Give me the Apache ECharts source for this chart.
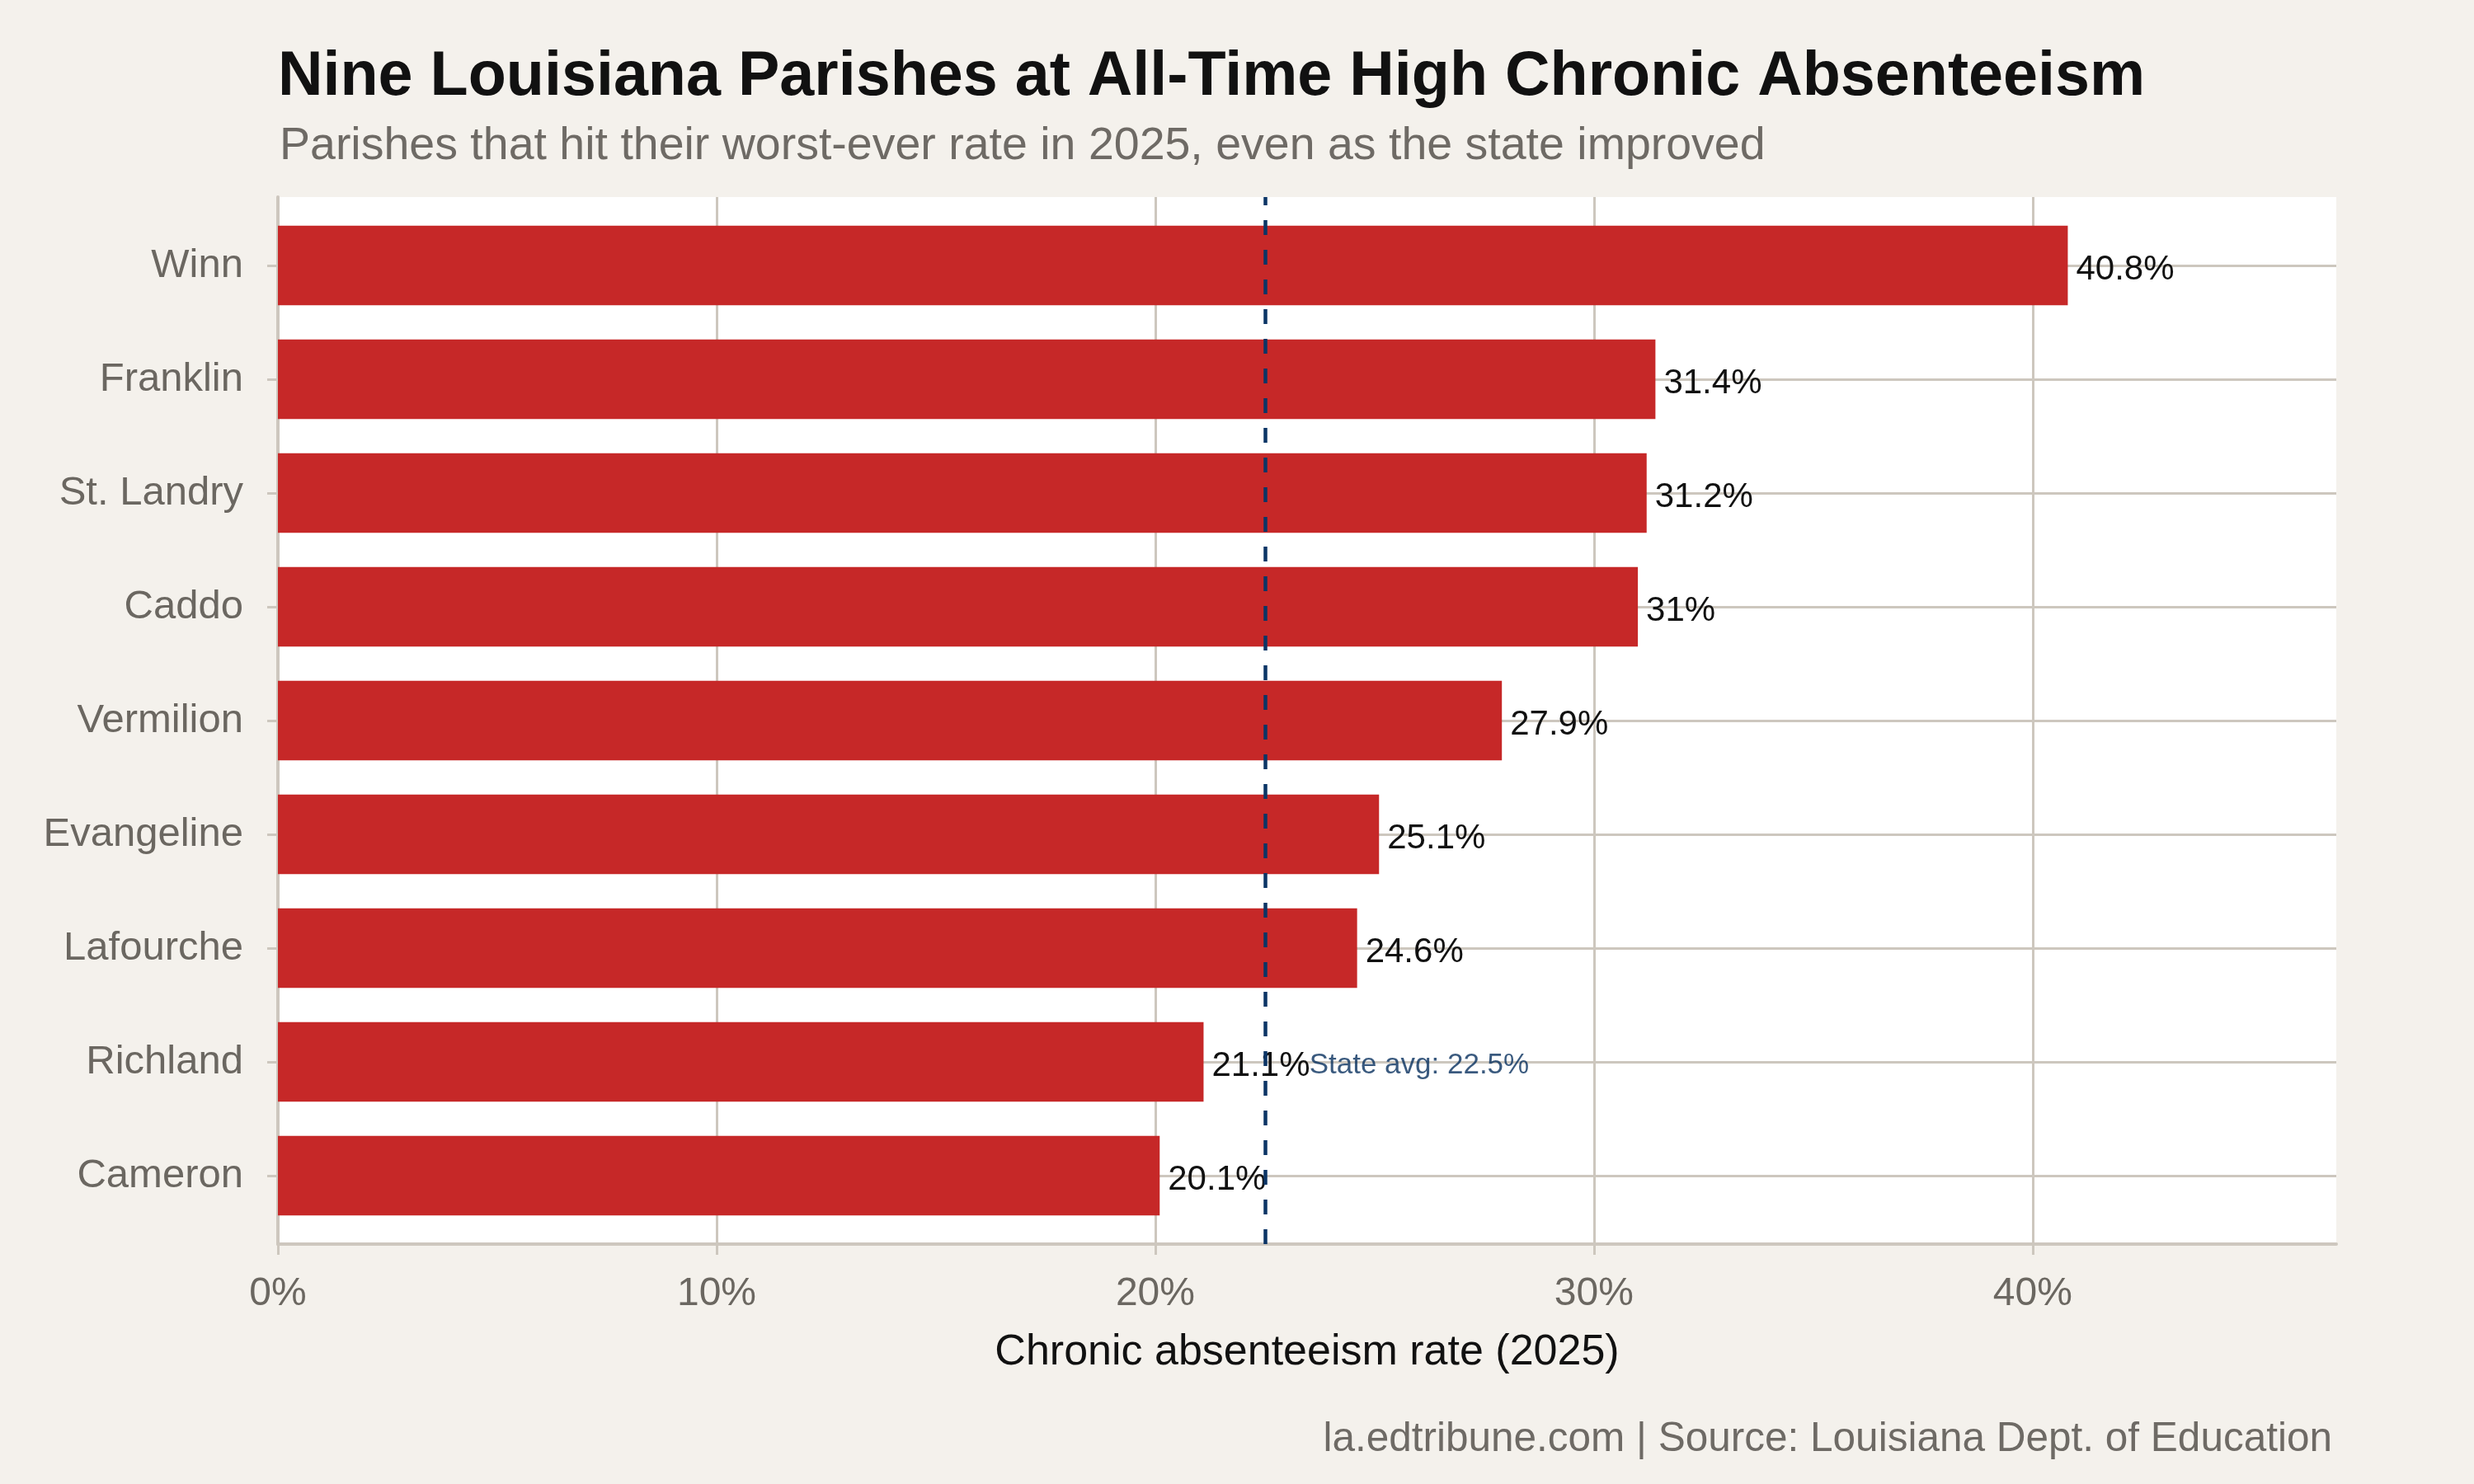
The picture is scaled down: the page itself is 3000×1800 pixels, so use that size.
<!DOCTYPE html>
<html>
<head>
<meta charset="utf-8">
<script src="https://cdn.jsdelivr.net/npm/echarts@6/dist/echarts.min.js"></script>
<style>
  html, body { margin: 0; padding: 0; background: #f4f1ec; }
  #chart { width: 3000px; height: 1800px; }
</style>
</head>
<body>
<div id="chart"></div>
<script>
// data
const parishes = ["Winn", "Franklin", "St. Landry", "Caddo", "Vermilion", "Evangeline", "Lafourche", "Richland", "Cameron"];
const rates = [40.8, 31.4, 31.2, 31, 27.9, 25.1, 24.6, 21.1, 20.1];
const stateAvg = 22.5;
const stateAvgRow = "Richland";
const xTicks = [0, 10, 20, 30, 40];

const FONT = "Liberation Sans, Arial, Helvetica, sans-serif";
const GRID = "#cdc7be";
const xMax = 40.8 * 1.15;

const chart = echarts.init(document.getElementById("chart"));

const option = {
  backgroundColor: "#f4f1ec",
  textStyle: { fontFamily: FONT },
  title: [
    {
      text: "Nine Louisiana Parishes at All-Time High Chronic Absenteeism",
      left: 332,
      top: 51,
      textStyle: { fontFamily: FONT, fontSize: 75.5, fontWeight: "bold", color: "#111111" }
    },
    {
      text: "Parishes that hit their worst-ever rate in 2025, even as the state improved",
      left: 334,
      top: 145,
      textStyle: { fontFamily: FONT, fontSize: 55.5, fontWeight: "normal", color: "#6e6a65" }
    },
    {
      text: "la.edtribune.com | Source: Louisiana Dept. of Education",
      right: 167,
      top: 1716,
      textStyle: { fontFamily: FONT, fontSize: 49.5, fontWeight: "normal", color: "#6e6a65" }
    }
  ],
  grid: [
    // panel
    { left: 337, right: 167, top: 239, bottom: 291, show: true, backgroundColor: "#ffffff", borderWidth: 0 },
    // bars (ggplot leaves 0.6 of a band at each end, echarts 0.5)
    { left: 337, right: 167, top: 253, bottom: 305 }
  ],
  xAxis: [
    {
      gridIndex: 0,
      type: "value",
      min: 0,
      max: xMax,
      interval: 10,
      name: "Chronic absenteeism rate (2025)",
      nameLocation: "middle",
      nameGap: 106,
      nameTextStyle: { fontFamily: FONT, fontSize: 52, color: "#111111" },
      axisLine: { show: true, lineStyle: { color: GRID, width: 4 } },
      axisTick: { show: true, length: 13, customValues: xTicks, lineStyle: { color: GRID, width: 3 } },
      axisLabel: {
        fontFamily: FONT,
        fontSize: 48,
        color: "#6b6761",
        margin: 37,
        showMaxLabel: false,
        formatter: v => (xTicks.indexOf(v) >= 0 ? v + "%" : "")
      },
      // last colour hides the line echarts puts at the axis max
      splitLine: { show: true, lineStyle: { color: [GRID, GRID, GRID, GRID, GRID, "rgba(0,0,0,0)"], width: 3 } }
    },
    {
      gridIndex: 1,
      type: "value",
      min: 0,
      max: xMax,
      show: false
    }
  ],
  yAxis: [
    {
      gridIndex: 0,
      type: "value",
      min: 0,
      max: 1,
      axisLine: { show: true, lineStyle: { color: GRID, width: 4 } },
      axisTick: { show: false },
      axisLabel: { show: false },
      splitLine: { show: false }
    },
    {
      gridIndex: 1,
      type: "category",
      inverse: true,
      data: parishes,
      axisLine: { show: false },
      axisTick: { show: true, alignWithLabel: true, length: 13, lineStyle: { color: GRID, width: 3 } },
      axisLabel: { fontFamily: FONT, fontSize: 49, color: "#6b6761", margin: 42, padding: [20, 0, 0, 0] },
      splitLine: { show: true, alignWithLabel: true, lineStyle: { color: GRID, width: 3 } }
    }
  ],
  series: [
    {
      type: "bar",
      xAxisIndex: 1,
      yAxisIndex: 1,
      data: rates,
      barWidth: "70%",
      itemStyle: { color: "#c62828" },
      label: {
        show: true,
        position: "right",
        distance: 10,
        offset: [0, 5],
        fontFamily: FONT,
        fontSize: 42,
        color: "#111111",
        formatter: p => p.value + "%"
      },
      z: 2
    },
    {
      type: "scatter",
      xAxisIndex: 1,
      yAxisIndex: 1,
      data: [[stateAvg + 1, stateAvgRow]],
      symbolSize: 1,
      itemStyle: { color: "rgba(0,0,0,0)" },
      silent: true,
      label: {
        show: true,
        position: "right",
        distance: 0,
        offset: [0, 4],
        fontFamily: FONT,
        fontSize: 35,
        color: "#08305e",
        formatter: () => "State avg: " + stateAvg + "%"
      },
      z: 6
    },
    {
      type: "line",
      xAxisIndex: 0,
      yAxisIndex: 0,
      data: [],
      z: 5,
      markLine: {
        silent: true,
        symbol: "none",
        label: { show: false },
        lineStyle: { color: "#0b3566", width: 4.5, type: [18, 18] },
        data: [{ xAxis: stateAvg }]
      }
    }
  ]
};

chart.setOption(option);
</script>
</body>
</html>
